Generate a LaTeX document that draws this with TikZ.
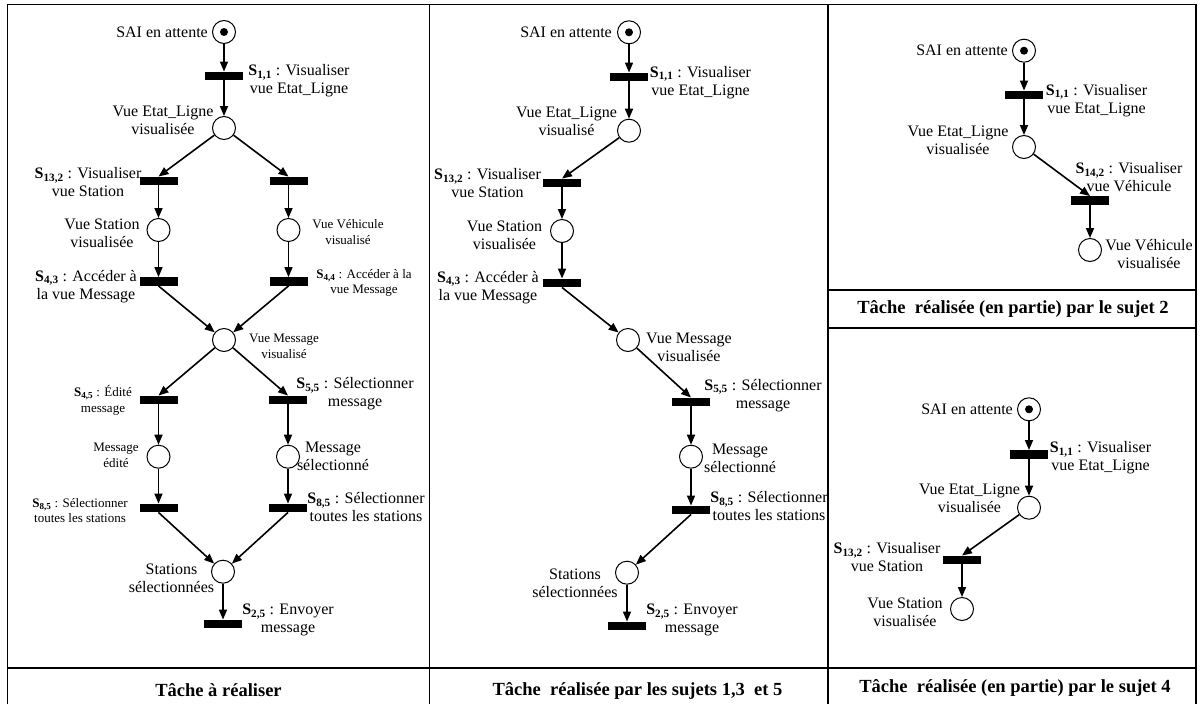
\documentclass[tikz,border=0pt]{standalone}
\usepackage{fontspec}
\setmainfont{Liberation Serif}
\usetikzlibrary{arrows.meta}
\newcommand\Sx[1]{\textbf{S\textsubscript{#1}}}
\begin{document}
\begin{tikzpicture}[x=1pt,y=-1pt,
  place/.style={circle,draw,line width=1pt,minimum size=23pt,inner sep=0pt,fill=white},
  token/.style={place},
  dot/.style={fill=black},
  trans/.style={rectangle,fill=black,minimum width=38pt,minimum height=8.5pt,inner sep=0pt},
  lbl/.style={align=center,inner sep=0pt,font=\fontsize{16}{18}\selectfont},
  slbl/.style={align=center,inner sep=0pt,font=\fontsize{13}{15.5}\selectfont},
  ttl/.style={inner sep=0pt,font=\fontsize{18.5}{22}\selectfont\bfseries},
  arc/.style={-{Triangle[length=10pt,width=8pt]},line width=1.6pt},
  frame/.style={line width=1.1pt}
]
\useasboundingbox (0,0) rectangle (1201,704);
% frame
\draw[frame] (7.5,704) -- (7.5,4.5) -- (1196,4.5) -- (1196,704);
\draw[frame] (429.5,4.5) -- (429.5,704);
\draw[frame] (828,4.5) -- (828,704);
\draw[frame] (7.5,668) -- (1196,668);
\draw[frame] (828,290) -- (1196,290);
\draw[frame] (828,328) -- (1196,328);

% ---------- left panel ----------
\node[token] (a0) at (224,32) {};
\fill[dot] (a0.center) circle (4pt);
\node[lbl,anchor=east] (a0l) at (208,32) {SAI en attente};
\node[trans] (a1) at (224,76) {};
\node[lbl] (a1l) at (299,81) {\Sx{1,1} : Visualiser\\vue Etat\_Ligne};
\node[place] (a2) at (224,128) {};
\node[lbl] (a2l) at (163,120) {Vue Etat\_Ligne\\visualisée};
\node[trans] (a3) at (158.5,181) {};
\node[lbl] (a3l) at (88,182.5) {\Sx{13,2} : Visualiser\\vue Station};
\node[trans] (a4) at (288.5,181) {};
\node[place] (a5) at (158.5,230) {};
\node[lbl] (a5l) at (102,233) {Vue Station\\visualisée};
\node[place] (a6) at (288.5,230) {};
\node[slbl] (a6l) at (348,232) {Vue Véhicule\\visualisé};
\node[trans] (a7) at (158.5,281.5) {};
\node[lbl] (a7l) at (86,286.5) {\Sx{4,3} : Accéder à\\la vue Message};
\node[trans] (a8) at (288.5,281.5) {};
\node[slbl] (a8l) at (364,283) {\Sx{4,4} : Accéder à la\\vue Message};
\node[place] (a9) at (224,340) {};
\node[slbl] (a9l) at (284,346.5) {Vue Message\\visualisé};
\node[trans] (a10) at (158.5,400) {};
\node[slbl] (a10l) at (103,400.5) {\Sx{4,5} : Édité\\message};
\node[trans] (a11) at (288,400) {};
\node[lbl] (a11l) at (355,394) {\Sx{5,5} : Sélectionner\\message};
\node[place] (a12) at (158.5,456.7) {};
\node[slbl] (a12l) at (116,455.5) {Message\\édité};
\node[place] (a13) at (288,456.7) {};
\node[lbl] (a13l) at (333,456.5) {Message\\sélectionné};
\node[trans] (a14) at (158.5,508) {};
\node[slbl] (a14l) at (80,510.5) {\Sx{8,5} : Sélectionner\\toutes les stations};
\node[trans] (a15) at (288,508) {};
\node[lbl] (a15l) at (366,507.5) {\Sx{8,5} : Sélectionner\\toutes les stations};
\node[place] (a16) at (223,571.7) {};
\node[lbl] (a16l) at (171.5,578) {Stations\\sélectionnées};
\node[trans] (a17) at (223,624) {};
\node[lbl] (a17l) at (288,620) {\Sx{2,5} : Envoyer\\message};
\node[ttl] (at) at (218.5,690) {Tâche à réaliser};

\draw[arc] (a0) -- (a1.north);
\draw[arc] (a1.south) -- (a2);
\draw[arc] (a2) -- (a3.north);
\draw[arc] (a2) -- (a4.north);
\draw[arc] (a3.south) -- (a5);
\draw[arc] (a4.south) -- (a6);
\draw[arc] (a5) -- (a7.north);
\draw[arc] (a6) -- (a8.north);
\draw[arc] (a7.south) -- (a9);
\draw[arc] (a8.south) -- (a9);
\draw[arc] (a9) -- (a10.north);
\draw[arc] (a9) -- (a11.north);
\draw[arc] (a10.south) -- (a12);
\draw[arc] (a11.south) -- (a13);
\draw[arc] (a12) -- (a14.north);
\draw[arc] (a13) -- (a15.north);
\draw[arc] (a14.south) -- (a16);
\draw[arc] (a15.south) -- (a16);
\draw[arc] (a16) -- (a17.north);

% ---------- middle panel ----------
\node[token] (b0) at (629,32.3) {};
\fill[dot] (b0.center) circle (4pt);
\node[lbl,anchor=east] (b0l) at (612,32.3) {SAI en attente};
\node[trans] (b1) at (629,77) {};
\node[lbl] (b1l) at (700.5,82.5) {\Sx{1,1} : Visualiser\\vue Etat\_Ligne};
\node[place] (b2) at (629,130.7) {};
\node[lbl] (b2l) at (566.5,121.5) {Vue Etat\_Ligne\\visualisé};
\node[trans] (b3) at (562,183) {};
\node[lbl] (b3l) at (487.5,183) {\Sx{13,2} : Visualiser\\vue Station};
\node[place] (b4) at (562,231) {};
\node[lbl] (b4l) at (504.5,235) {Vue Station\\visualisée};
\node[trans] (b5) at (562,283) {};
\node[lbl] (b5l) at (488,287.5) {\Sx{4,3} : Accéder à\\la vue Message};
\node[place] (b6) at (628,340) {};
\node[lbl] (b6l) at (689,347.5) {Vue Message\\visualisée};
\node[trans] (b7) at (691,402) {};
\node[lbl] (b7l) at (763,395.5) {\Sx{5,5} : Sélectionner\\message};
\node[place] (b8) at (691,456.7) {};
\node[lbl] (b8l) at (740,458) {Message\\sélectionné};
\node[trans] (b9) at (691,510) {};
\node[lbl] (b9l) at (769,506.5) {\Sx{8,5} : Sélectionner\\toutes les stations};
\node[place] (b10) at (627,572.7) {};
\node[lbl] (b10l) at (575,583.5) {Stations\\sélectionnées};
\node[trans] (b11) at (627,626) {};
\node[lbl] (b11l) at (692,620) {\Sx{2,5} : Envoyer\\message};
\node[ttl] (bt) at (637.5,691) {Tâche\ \ réalisée par les sujets 1,3\ \ et 5};

\draw[arc] (b0) -- (b1.north);
\draw[arc] (b1.south) -- (b2);
\draw[arc] (b2) -- (b3.north);
\draw[arc] (b3.south) -- (b4);
\draw[arc] (b4) -- (b5.north);
\draw[arc] (b5.south) -- (b6);
\draw[arc] (b6) -- (b7.north);
\draw[arc] (b7.south) -- (b8);
\draw[arc] (b8) -- (b9.north);
\draw[arc] (b9.south) -- (b10);
\draw[arc] (b10) -- (b11.north);

% ---------- right top panel ----------
\node[token] (c0) at (1024,50.7) {};
\fill[dot] (c0.center) circle (4pt);
\node[lbl,anchor=east] (c0l) at (1008,50.7) {SAI en attente};
\node[trans] (c1) at (1024,95) {};
\node[lbl] (c1l) at (1096.5,100.5) {\Sx{1,1} : Visualiser\\vue Etat\_Ligne};
\node[place] (c2) at (1024,147) {};
\node[lbl] (c2l) at (958,140) {Vue Etat\_Ligne\\visualisée};
\node[trans] (c3) at (1090,200.5) {};
\node[lbl] (c3l) at (1129,177.5) {\Sx{14,2} : Visualiser\\vue Véhicule};
\node[place] (c4) at (1090,250) {};
\node[lbl] (c4l) at (1149,254.5) {Vue Véhicule\\visualisée};
\node[ttl] (ct) at (1013,309) {Tâche\ \ réalisée (en partie) par le sujet 2};

\draw[arc] (c0) -- (c1.north);
\draw[arc] (c1.south) -- (c2);
\draw[arc] (c2) -- (c3.north);
\draw[arc] (c3.south) -- (c4);

% ---------- right bottom panel ----------
\node[token] (d0) at (1029,409.3) {};
\fill[dot] (d0.center) circle (4pt);
\node[lbl,anchor=east] (d0l) at (1013,409.3) {SAI en attente};
\node[trans] (d1) at (1029,454.5) {};
\node[lbl] (d1l) at (1100.5,458) {\Sx{1,1} : Visualiser\\vue Etat\_Ligne};
\node[place] (d2) at (1029,507.7) {};
\node[lbl] (d2l) at (969.5,498.5) {Vue Etat\_Ligne\\visualisée};
\node[trans] (d3) at (962,560) {};
\node[lbl] (d3l) at (887,557) {\Sx{13,2} : Visualiser\\vue Station};
\node[place] (d4) at (962,609) {};
\node[lbl] (d4l) at (905,612) {Vue Station\\visualisée};
\node[ttl] (dt) at (1015,688) {Tâche\ \ réalisée (en partie) par le sujet 4};

\draw[arc] (d0) -- (d1.north);
\draw[arc] (d1.south) -- (d2);
\draw[arc] (d2) -- (d3.north);
\draw[arc] (d3.south) -- (d4);
\end{tikzpicture}
\end{document}
